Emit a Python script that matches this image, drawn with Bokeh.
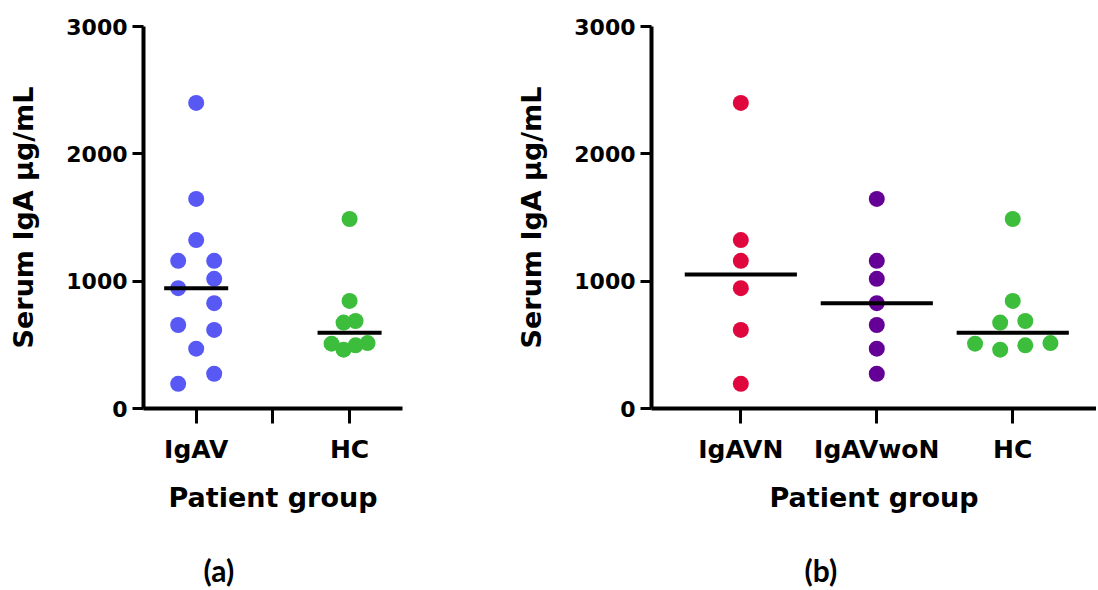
import numpy as np
from bokeh.plotting import figure
from bokeh.layouts import row
from bokeh.models import FixedTicker, Range1d, Title
from bokeh.embed import file_html
from bokeh.resources import INLINE

# ---------------- data ----------------
igavn = [2400, 1323, 1160, 945, 617, 194]
igavwon = [1646, 1160, 1018, 827, 656, 470, 273]
hc = [1488, 845, 687, 675, 514, 509, 496, 462]
igav = igavn + igavwon

labels_a = ["IgAV", "", "HC"]
labels_b = ["IgAVN", "IgAVwoN", "HC"]
y_ticks = [0, 1000, 2000, 3000]
y_title = "Serum IgA μg/mL"
x_title = "Patient group"
captions = ["(a)", "(b)"]

col_blue = "#5858F5"
col_red = "#E0073F"
col_purple = "#650096"
col_green = "#3CBE3C"

# ---------------- style ----------------
FONT = "DejaVu Sans"
FRAME_H = 382
Y_MAX = 3000
DOT = 16


def swarm_offsets(vals, px_per_unit, dot_px, half_width):
    vals = np.asarray(vals, float)
    order = np.argsort(vals, kind="stable")
    ys = vals[order] * px_per_unit
    n = len(ys)
    side = np.zeros(n)
    slot = np.zeros(n)
    placed = {-1: [], 1: []}
    for i in range(n):
        near = (i > 0 and ys[i] - ys[i - 1] < dot_px) or (i < n - 1 and ys[i + 1] - ys[i] < dot_px)
        if not near:
            continue
        s = -1 if i % 2 == 0 else 1
        k = 1
        while any(k2 == k and abs(ys[i] - y2) < dot_px for y2, k2 in placed[s]):
            k += 1
        placed[s].append((ys[i], k))
        side[i] = s
        slot[i] = k
    off = np.zeros(n)
    kmax = slot.max()
    if kmax > 0:
        off = side * (slot - 0.5) / (kmax - 0.5) * half_width
    res = np.zeros(n)
    res[order] = off
    return res


def make_panel(labels, groups, x_start, x_end, frame_w, border_l, border_r,
               caption, cap_offset, spread_px, bar_w):
    p = figure(frame_width=frame_w, frame_height=FRAME_H,
               x_range=Range1d(x_start, x_end), y_range=Range1d(0, Y_MAX),
               output_backend="svg", toolbar_location=None,
               min_border_left=border_l, min_border_right=border_r,
               min_border_top=26, min_border_bottom=181)
    p.background_fill_color = "white"
    p.border_fill_color = "white"
    p.outline_line_color = None
    p.grid.visible = False

    px_per_x = frame_w / (x_end - x_start)
    px_per_y = FRAME_H / Y_MAX
    for name, vals, color in groups:
        pos = labels.index(name) + 1
        offs = swarm_offsets(vals, px_per_y, DOT, spread_px) / px_per_x
        p.scatter(pos + offs, vals, size=DOT, fill_color=color, line_color=None)
        med = float(np.median(vals))
        p.segment(x0=[pos - bar_w / 2], y0=[med], x1=[pos + bar_w / 2], y1=[med],
                  line_color="black", line_width=4)

    ticks = list(range(1, len(labels) + 1))
    p.xaxis.ticker = FixedTicker(ticks=ticks)
    p.xaxis.major_label_overrides = {t: lab for t, lab in zip(ticks, labels)}
    p.yaxis.ticker = FixedTicker(ticks=y_ticks)
    for ax in (p.xaxis, p.yaxis):
        ax.axis_line_width = 4
        ax.axis_line_color = "black"
        ax.major_tick_line_width = 3
        ax.major_tick_line_color = "black"
        ax.major_tick_in = 0
        ax.minor_tick_line_color = None
        ax.major_label_text_font = FONT
        ax.major_label_text_font_style = "bold"
        ax.major_label_text_color = "black"
        ax.axis_label_text_font = FONT
        ax.axis_label_text_font_style = "bold"
        ax.axis_label_text_color = "black"
    p.xaxis.major_tick_out = 15
    p.yaxis.major_tick_out = 11
    p.xaxis.major_label_text_font_size = "25px"
    p.yaxis.major_label_text_font_size = "22px"
    p.xaxis.major_label_standoff = 11
    p.yaxis.major_label_standoff = 5
    p.xaxis.axis_label = x_title
    p.yaxis.axis_label = y_title
    p.xaxis.axis_label_text_font_size = "27px"
    p.yaxis.axis_label_text_font_size = "27px"
    p.xaxis.axis_label_standoff = 15
    p.yaxis.axis_label_standoff = 24

    t = Title(text=caption, align="left", offset=cap_offset,
              text_font="Lato", text_font_style="bold", text_font_size="30px",
              text_color="black", standoff=69)
    p.add_layout(t, "below")
    return p


pa = make_panel(labels_a,
                [("IgAV", igav, col_blue), ("HC", hc, col_green)],
                0.313, 3.69, 259, 143, 20, captions[0], 60, 18, 0.835)
pb = make_panel(labels_b,
                [("IgAVN", igavn, col_red), ("IgAVwoN", igavwon, col_purple), ("HC", hc, col_green)],
                0.343, 3.616, 445, 229, 0, captions[1], 153, 37.7, 0.825)

layout = row(pa, pb)
open("out.html", "w").write(file_html(layout, INLINE))
